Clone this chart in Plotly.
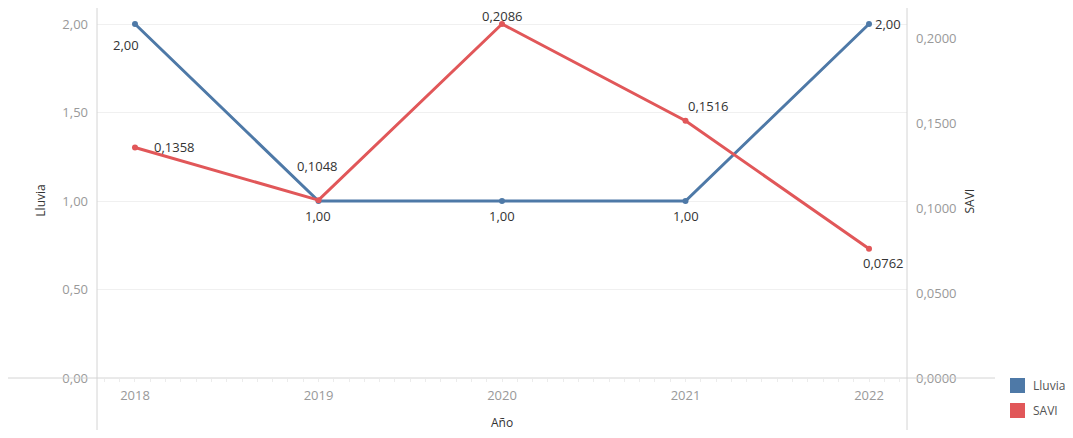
import plotly.graph_objects as go

years = [2018, 2019, 2020, 2021, 2022]
lluvia = [2.00, 1.00, 1.00, 1.00, 2.00]
savi = [0.1358, 0.1048, 0.2086, 0.1516, 0.0762]
series_names = ["Lluvia", "SAVI"]

# label offsets (pixels) relative to each point
lluvia_shift = [(-9, -21), (0, -15), (0, -15), (0, -15), (19, 0)]
savi_shift = [(40, 1), (-1, 34), (0, 8), (23, 15), (14, -14)]

BLUE = "#4e79a7"
RED = "#e15759"
FONT = "Open Sans, Lato, sans-serif"

fig = go.Figure()
fig.add_trace(go.Scatter(
    x=years, y=lluvia, name=series_names[0], mode="lines+markers",
    line=dict(color=BLUE, width=3), marker=dict(color=BLUE, size=6),
    showlegend=False, cliponaxis=False))
fig.add_trace(go.Scatter(
    x=years, y=savi, name=series_names[1], mode="lines+markers", yaxis="y2",
    line=dict(color=RED, width=3), marker=dict(color=RED, size=6),
    showlegend=False, cliponaxis=False))

annotations = []
for x, v, (dx, dy) in zip(years, lluvia, lluvia_shift):
    annotations.append(dict(x=x, y=v, xref="x", yref="y", text=f"{v:.2f}".replace(".", ","),
                            showarrow=False, xshift=dx, yshift=dy,
                            font=dict(size=13, color="#333333", family=FONT)))
for x, v, (dx, dy) in zip(years, savi, savi_shift):
    annotations.append(dict(x=x, y=v, xref="x", yref="y2", text=f"{v:.4f}".replace(".", ","),
                            showarrow=False, xshift=dx, yshift=dy,
                            font=dict(size=13, color="#333333", family=FONT)))

# axis titles
annotations += [
    dict(text="Lluvia", xref="paper", yref="paper", x=-0.0827, y=0.478, textangle=-90,
         showarrow=False, font=dict(size=12, color="#333333", family=FONT)),
    dict(text="SAVI", xref="paper", yref="paper", x=1.090, y=0.478, textangle=-90,
         showarrow=False, font=dict(size=12, color="#333333", family=FONT)),
    dict(text="Año", xref="paper", yref="paper", x=0.5, y=-0.1216, yanchor="middle",
         showarrow=False, font=dict(size=12, color="#333333", family=FONT)),
]

# legend (Tableau-style colour swatches)
shapes = []
for i, (nm, c) in enumerate(zip(series_names, [BLUE, RED])):
    top = 378 + i * 25
    y1 = (378 - top) / 370
    y0 = (378 - (top + 15)) / 370
    shapes.append(dict(type="rect", xref="paper", yref="paper",
                       x0=(1010 - 97) / 810, x1=(1025 - 97) / 810, y0=y0, y1=y1,
                       fillcolor=c, line=dict(width=0)))
    annotations.append(dict(text=nm, xref="paper", yref="paper", x=(1031 - 97) / 810,
                            y=(y0 + y1) / 2, xanchor="left", yanchor="middle", showarrow=False,
                            font=dict(size=12, color="#555555", family=FONT)))

shapes += [
    dict(type="line", xref="paper", yref="paper", x0=0, x1=0, y0=-0.17, y1=1.0,
         line=dict(color="#d4d4d4", width=1)),
    dict(type="line", xref="paper", yref="paper", x0=1, x1=1, y0=-0.17, y1=1.0,
         line=dict(color="#d4d4d4", width=1)),
    dict(type="line", xref="paper", yref="paper", x0=(8 - 97) / 810, x1=(995 - 97) / 810,
         y0=0, y1=0, line=dict(color="#d4d4d4", width=1)),
]

fig.update_layout(
    width=1057, height=422,
    margin=dict(l=89, r=158, t=0, b=52, autoexpand=False),
    paper_bgcolor="white", plot_bgcolor="white",
    separators=",.",
    showlegend=False,
    font=dict(family=FONT, size=12, color="#999999"),
    xaxis=dict(range=[2017.793, 2022.207], tickvals=years, ticktext=[str(y) for y in years],
               showgrid=False, zeroline=False, showline=False, ticks="", automargin=False,
               tickfont=dict(size=13, color="#999999"), ticklabelstandoff=8,
               minor=dict(dtick=1 / 12, ticks="outside", ticklen=3, tickcolor="#ececec", showgrid=False)),
    yaxis=dict(range=[0, 2.0904], tickvals=[0, 0.5, 1.0, 1.5, 2.0], tickformat=".2f",
               showgrid=True, gridcolor="#f0f0f0", zeroline=False, showline=False, automargin=False,
               tickfont=dict(size=13, color="#999999"), ticks="", ticklabelstandoff=8),
    yaxis2=dict(range=[0, 0.21803], overlaying="y", side="right", automargin=False,
                tickvals=[0, 0.05, 0.1, 0.15, 0.2], tickformat=".4f",
                showgrid=False, zeroline=False, showline=False, ticklabelstandoff=8,
                tickfont=dict(size=13, color="#999999")),
    annotations=annotations,
    shapes=shapes,
)
fig.write_html("out.html")
